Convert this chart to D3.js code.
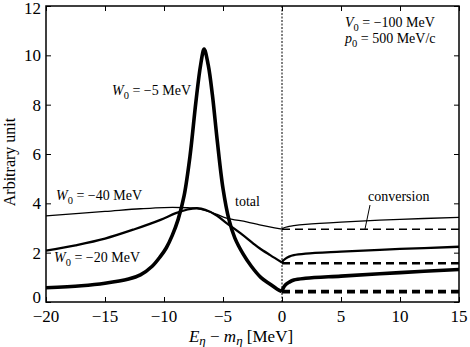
<!DOCTYPE html>
<html>
<head>
<meta charset="utf-8">
<script src="https://cdn.jsdelivr.net/npm/d3@7"></script>
<style>
  body { margin: 0; background: #fff; }
  svg { font-family: "Liberation Serif", "DejaVu Serif", serif; }
</style>
</head>
<body>
<svg id="chart" width="470" height="347"></svg>
<script>
// x ticks and y ticks
const xTicks = [-20, -15, -10, -5, 0, 5, 10, 15];
const yTicks = [0, 2, 4, 6, 8, 10, 12];

// W0 = -5 MeV (thick), below threshold
const w5X = [-20, -17, -15, -13, -12, -11, -10.3, -9.8, -9.3, -8.8, -8.3, -7.8, -7.3, -6.9, -6.6, -6.25, -5.9, -5.5, -5.0, -4.5, -4.0, -3.3, -2.6, -1.8, -1.0, -0.4, 0];
const w5Y = [0.58, 0.66, 0.76, 0.93, 1.1, 1.45, 1.85, 2.2, 2.7, 3.35, 4.3, 5.9, 8.1, 9.6, 10.25, 9.6, 8.4, 6.6, 4.6, 3.35, 2.6, 1.95, 1.45, 1.0, 0.72, 0.52, 0.42];
// W0 = -20 MeV (medium)
const w20X = [-20, -17.5, -15, -12.5, -10.3, -9, -8, -7.2, -6.5, -5.5, -4.7, -3.5, -2.5, -1.9, -1, 0];
const w20Y = [2.08, 2.3, 2.57, 2.95, 3.33, 3.6, 3.75, 3.8, 3.74, 3.5, 3.2, 2.78, 2.4, 2.18, 1.9, 1.6];
// W0 = -40 MeV (thin)
const w40X = [-20, -15, -12, -10, -8, -7, -5.5, -4.7, -3, -1.9, 0];
const w40Y = [3.49, 3.67, 3.78, 3.83, 3.82, 3.78, 3.55, 3.4, 3.25, 3.13, 2.95];

// above threshold: total
const aboveX = [0, 0.1, 0.3, 0.6, 1, 2, 5, 10, 15];
const w5AboveY = [0.42, 0.56, 0.7, 0.8, 0.89, 0.96, 1.05, 1.19, 1.32];
const w20AboveY = [1.6, 1.68, 1.76, 1.84, 1.9, 1.96, 2.04, 2.15, 2.24];
const w40AboveY = [2.95, 2.99, 3.03, 3.07, 3.1, 3.15, 3.24, 3.35, 3.43];

// above threshold: conversion (dashed)
const convX = [0, 15];
const w5Conv = [0.42, 0.42];
const w20Conv = [1.57, 1.57];
const w40Conv = [2.95, 2.95];

const svg = d3.select("#chart");
const margin = { top: 6, right: 11, bottom: 45, left: 46 };
const width = 470 - margin.left - margin.right;
const height = 347 - margin.top - margin.bottom;

const g = svg.append("g").attr("transform", `translate(${margin.left},${margin.top})`);

const x = d3.scaleLinear().domain([-20, 15]).range([0, width]);
const y = d3.scaleLinear().domain([0, 12]).range([height, 0]);

const fmt = d => d < 0 ? "\u2212" + Math.abs(d) : String(d);

// ticks, inward on all four sides
const tickLen = 5;
g.append("g").call(d3.axisBottom(x).tickValues(xTicks).tickSize(-tickLen).tickFormat(""))
    .attr("transform", `translate(0,${height})`);
g.append("g").call(d3.axisTop(x).tickValues(xTicks).tickSize(-tickLen).tickFormat(""));
g.append("g").call(d3.axisLeft(y).tickValues(yTicks).tickSize(-tickLen).tickFormat(""));
g.append("g").call(d3.axisRight(y).tickValues(yTicks).tickSize(-tickLen).tickFormat(""))
    .attr("transform", `translate(${width},0)`);
g.selectAll(".domain").remove();
g.selectAll(".tick line").attr("stroke", "#000").attr("stroke-width", 1);

// tick labels
g.selectAll(".xlab").data(xTicks).join("text")
    .attr("x", d => x(d)).attr("y", height + 20)
    .attr("text-anchor", "middle").attr("font-size", 17).text(fmt);
g.selectAll(".ylab").data(yTicks).join("text")
    .attr("x", -5).attr("y", d => y(d) + (d === 0 ? 1 : d === 12 ? 8 : 6))
    .attr("text-anchor", "end").attr("font-size", 17).text(fmt);

// dotted threshold line
g.append("line")
    .attr("x1", x(0)).attr("x2", x(0)).attr("y1", 0).attr("y2", height)
    .attr("stroke", "#000").attr("stroke-width", 1).attr("stroke-dasharray", "2,1.5");

const line = d3.line().x(d => x(d[0])).y(d => y(d[1])).curve(d3.curveCatmullRom.alpha(0.5));
const zip = (xs, ys) => xs.map((v, i) => [v, ys[i]]);

const plot = (xs, ys, w, dash) => g.append("path")
    .datum(zip(xs, ys))
    .attr("fill", "none").attr("stroke", "#000")
    .attr("stroke-width", w)
    .attr("stroke-linejoin", "round")
    .attr("stroke-dasharray", dash || null)
    .attr("d", line);

plot(w40X, w40Y, 1.3);
plot(aboveX, w40AboveY, 1.3);
plot(convX, w40Conv, 1.3, "8,5");

plot(w20X, w20Y, 2.3);
plot(aboveX, w20AboveY, 2.3);
plot(convX, w20Conv, 2.3, "8,5");

plot(w5X, w5Y, 3.6);
plot(aboveX, w5AboveY, 3.6);
plot(convX, w5Conv, 3.6, "8,5");

// frame
g.append("rect").attr("width", width).attr("height", height)
    .attr("fill", "none").attr("stroke", "#000").attr("stroke-width", 1.5);

// labels with subscript
function subLabel(px, py, sym, sub, rest, size) {
    const t = svg.append("text").attr("x", px).attr("y", py).attr("font-size", size);
    t.append("tspan").attr("font-style", "italic").text(sym);
    t.append("tspan").attr("dy", 4).attr("font-size", size * 0.75).text(sub);
    t.append("tspan").attr("dy", -4).text(rest);
    return t;
}
subLabel(112, 95, "W", "0", " = \u22125 MeV", 14);
subLabel(56, 200, "W", "0", " = \u221240 MeV", 14);
subLabel(54, 262, "W", "0", " = \u221220 MeV", 14);
subLabel(345, 27, "V", "0", " = \u2212100 MeV", 14);
subLabel(345, 43, "p", "0", " = 500 MeV/c", 14).select("tspan").attr("font-style", "italic");

svg.append("text").attr("x", 235).attr("y", 206).attr("font-size", 14).text("total");
svg.append("text").attr("x", 368).attr("y", 201).attr("font-size", 14).text("conversion");
svg.append("line").attr("x1", 370).attr("y1", 205).attr("x2", 365).attr("y2", 229)
    .attr("stroke", "#000").attr("stroke-width", 1);

// axis titles
svg.append("text")
    .attr("transform", "translate(15,162) rotate(-90)")
    .attr("text-anchor", "middle").attr("font-size", 16).text("Arbitrary unit");

const xt = svg.append("text").attr("x", 241).attr("y", 342)
    .attr("text-anchor", "middle").attr("font-size", 17);
xt.append("tspan").attr("font-style", "italic").text("E");
xt.append("tspan").attr("font-style", "italic").attr("dy", 3).attr("font-size", 13).text("\u03b7");
xt.append("tspan").attr("dy", -3).text(" \u2212 ");
xt.append("tspan").attr("font-style", "italic").text("m");
xt.append("tspan").attr("font-style", "italic").attr("dy", 3).attr("font-size", 13).text("\u03b7");
xt.append("tspan").attr("dy", -3).text("  [MeV]");
</script>
</body>
</html>
